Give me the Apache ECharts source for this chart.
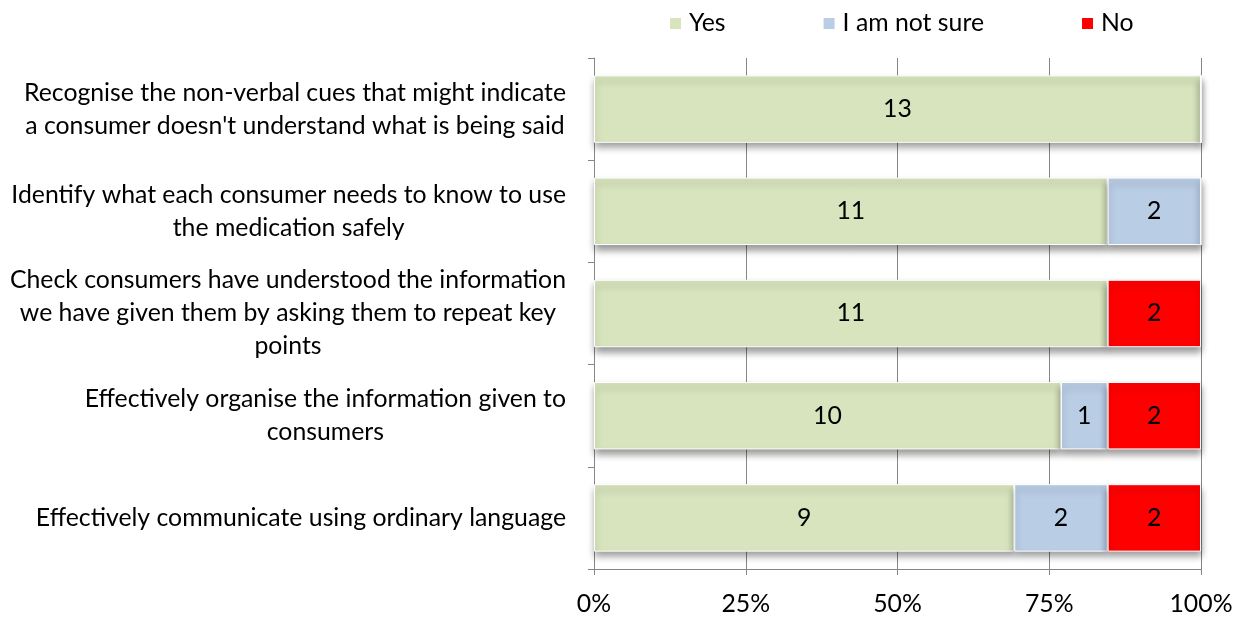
<!DOCTYPE html>
<html><head><meta charset="utf-8">
<script src="https://cdn.jsdelivr.net/npm/echarts@6/dist/echarts.min.js"></script>
<style>html,body{margin:0;padding:0;background:#fff}#c{width:1238px;height:617px}</style>
</head><body><div id="c"></div>
<script>
const categories = [
  "Recognise the non-verbal cues that might indicate\na consumer doesn't understand what is being said",
  "Identify what each consumer needs to know to use\nthe medication safely",
  "Check consumers have understood the information\nwe have given them by asking them to repeat key\npoints",
  "Effectively organise the information given to\nconsumers",
  "Effectively communicate using ordinary language"
];
const seriesNames = ["Yes", "I am not sure", "No"];
const yesCounts = [13, 11, 11, 10, 9];
const notSureCounts = [0, 2, 0, 1, 2];
const noCounts = [0, 0, 2, 2, 2];
const xTicks = [0, 25, 50, 75, 100];
const colors = ["#D7E4BD", "#B9CDE5", "#FF0000"];

const FONT = "Lato";
const FS = 24.8;
const totals = yesCounts.map((v, i) => v + notSureCounts[i] + noCounts[i]);
const countsList = [yesCounts, notSureCounts, noCounts];

const series = seriesNames.map((name, s) => ({
  name: name,
  type: "bar",
  stack: "total",
  barWidth: "66%",
  data: countsList[s].map((c, i) => ({ value: c / totals[i] * 100, count: c })),
  itemStyle: {
    color: colors[s],
    borderColor: "#ffffff",
    borderWidth: 1,
    shadowColor: "rgba(0,0,0,0.4)",
    shadowBlur: 7,
    shadowOffsetY: 5
  },
  label: {
    show: true,
    position: "inside",
    color: "#000",
    fontFamily: FONT,
    fontSize: FS,
    formatter: p => p.data.count > 0 ? String(p.data.count) : ""
  },
  emphasis: { disabled: true }
}));

const chart = echarts.init(document.getElementById("c"));
chart.setOption({
  animation: false,
  backgroundColor: "#fff",
  textStyle: { fontFamily: FONT },
  legend: {
    data: seriesNames,
    left: 663,
    top: 6,
    itemWidth: 13,
    itemHeight: 13,
    itemGap: 96,
    icon: "rect",
    textStyle: { fontFamily: FONT, fontSize: FS, color: "#000", padding: [0, 0, 0, 2] }
  },
  grid: { left: 594, right: 37, top: 58, bottom: 46, containLabel: false },
  xAxis: {
    type: "value",
    min: 0,
    max: 100,
    interval: 25,
    axisLine: { show: true, lineStyle: { color: "#868686", width: 1 } },
    axisTick: { show: true, length: 6, lineStyle: { color: "#868686" } },
    splitLine: { show: true, lineStyle: { color: "#868686", width: 1 } },
    axisLabel: {
      color: "#000",
      fontFamily: FONT,
      fontSize: FS,
      margin: 23,
      formatter: v => xTicks.includes(v) ? v + "%" : ""
    }
  },
  yAxis: {
    type: "category",
    inverse: true,
    data: categories,
    axisLine: { show: true, lineStyle: { color: "#868686", width: 1 } },
    axisTick: { show: true, length: 6, lineStyle: { color: "#868686" } },
    axisLabel: {
      color: "#000",
      fontFamily: FONT,
      fontSize: FS,
      margin: 28,
      align: "right",
      lineHeight: 33,
      formatter: v => v.split("\n").map(l => "{c|" + l + "}").join("\n"),
      rich: { c: { align: "center", fontFamily: FONT, fontSize: FS, lineHeight: 33, color: "#000" } }
    }
  },
  series: series
});
</script>
</body></html>
